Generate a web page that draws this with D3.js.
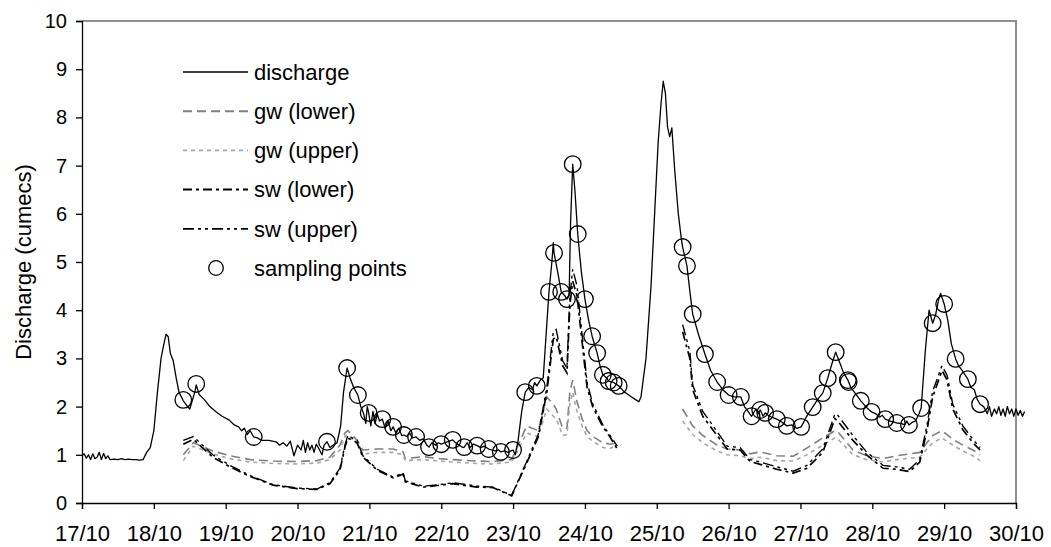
<!DOCTYPE html>
<html>
<head>
<meta charset="utf-8">
<script src="https://cdn.jsdelivr.net/npm/d3@7"></script>
<style>
  body { margin: 0; background: #fff; }
  text { font-family: "Liberation Sans", Arial, sans-serif; }
</style>
</head>
<body>
<div id="chart"></div>
<script>
// Day-of-October tick labels along the bottom
const dayTicks = [17, 18, 19, 20, 21, 22, 23, 24, 25, 26, 27, 28, 29, 30];
const dayLabels = ["17/10", "18/10", "19/10", "20/10", "21/10", "22/10", "23/10", "24/10", "25/10", "26/10", "27/10", "28/10", "29/10", "30/10"];
const yTicks = [0, 1, 2, 3, 4, 5, 6, 7, 8, 9, 10];

// Discharge hydrograph (day of October, cumecs)
const qDays = [17.0, 17.03, 17.06, 17.09, 17.12, 17.15, 17.18, 17.21, 17.24, 17.27, 17.3, 17.33, 17.36, 17.39, 17.45, 17.5, 17.55, 17.6, 17.65, 17.7, 17.75, 17.8, 17.85,
  17.9, 17.95, 18.0, 18.05, 18.1, 18.14, 18.17, 18.2, 18.23, 18.27, 18.31, 18.35, 18.41, 18.47, 18.5, 18.53, 18.57, 18.59, 18.63, 18.7, 18.78, 18.86, 18.95,
  19.05, 19.12, 19.18, 19.22, 19.26, 19.3, 19.34, 19.39, 19.44, 19.5, 19.6, 19.7, 19.75, 19.8, 19.85, 19.9, 19.95, 20.0, 20.05, 20.08, 20.11, 20.14, 20.17,
  20.2, 20.23, 20.26, 20.3, 20.34, 20.37, 20.41, 20.45, 20.5, 20.55, 20.6, 20.64, 20.69, 20.73, 20.78, 20.84, 20.88, 20.92, 20.95, 20.97, 20.99, 21.02, 21.05,
  21.08, 21.11, 21.14, 21.18, 21.22, 21.26, 21.3, 21.33, 21.37, 21.41, 21.45, 21.48, 21.52, 21.56, 21.6, 21.65, 21.7, 21.75, 21.8, 21.83, 21.87, 21.92, 21.96,
  22.0, 22.05, 22.1, 22.16, 22.2, 22.25, 22.3, 22.32, 22.36, 22.4, 22.45, 22.5, 22.55, 22.6, 22.66, 22.7, 22.75, 22.8, 22.83, 22.88, 22.93, 22.97, 23.0, 23.03,
  23.07, 23.12, 23.17, 23.22, 23.27, 23.3, 23.33, 23.38, 23.42, 23.46, 23.5, 23.54, 23.56, 23.57, 23.62, 23.67, 23.72, 23.75, 23.78, 23.8, 23.83, 23.86, 23.9,
  23.95, 24.0, 24.05, 24.1, 24.17, 24.21, 24.25, 24.3, 24.33, 24.4, 24.47, 24.55, 24.6, 24.65, 24.7, 24.75, 24.78, 24.85, 24.92, 24.98, 25.02, 25.06, 25.09,
  25.12, 25.15, 25.18, 25.21, 25.25, 25.3, 25.34, 25.36, 25.42, 25.46, 25.5, 25.58, 25.67, 25.75, 25.84, 25.92, 26.0, 26.08, 26.17, 26.22, 26.27, 26.32, 26.38,
  26.41, 26.44, 26.48, 26.51, 26.55, 26.6, 26.67, 26.74, 26.81, 26.88, 26.95, 27.01, 27.08, 27.17, 27.24, 27.31, 27.38, 27.44, 27.49, 27.55, 27.6, 27.66, 27.7,
  27.75, 27.84, 27.92, 27.99, 28.05, 28.1, 28.14, 28.18, 28.25, 28.34, 28.4, 28.45, 28.48, 28.51, 28.56, 28.6, 28.65, 28.68, 28.74, 28.79, 28.84, 28.88, 28.92,
  28.95, 29.0, 29.05, 29.1, 29.16, 29.2, 29.25, 29.33, 29.37, 29.42, 29.46, 29.5, 29.55, 29.6, 29.63, 29.66, 29.7, 29.73, 29.76, 29.79, 29.82, 29.85, 29.88,
  29.91, 29.94, 29.97, 30.0, 30.03, 30.06, 30.09, 30.12];
const discharge = [0.98, 1.02, 0.93, 1.0, 0.9, 1.02, 0.92, 0.95, 1.05, 0.9, 1.03, 0.92, 0.98, 0.9, 0.91, 0.9, 0.92, 0.9, 0.91, 0.9, 0.9, 0.89, 0.9,
  1.05, 1.15, 1.5, 2.3, 3.0, 3.3, 3.5, 3.45, 3.1, 2.95, 2.6, 2.3, 2.12, 2.0, 1.95, 2.1, 2.3, 2.45, 2.25, 2.15, 2.0, 1.9, 1.8,
  1.72, 1.62, 1.58, 1.5, 1.55, 1.42, 1.5, 1.37, 1.35, 1.3, 1.3, 1.27, 1.2, 1.25, 1.18, 1.28, 0.98, 1.2, 1.1, 1.3, 1.05, 1.25, 1.1,
  1.2, 1.05, 1.22, 1.12, 1.0, 1.2, 1.27, 1.15, 1.2, 1.25, 1.6, 2.3, 2.8, 2.6, 2.4, 2.24, 2.0, 1.85, 1.65, 2.0, 1.87, 1.6, 1.9,
  1.65, 1.85, 1.7, 1.74, 1.55, 1.7, 1.5, 1.58, 1.45, 1.55, 1.4, 1.41, 1.38, 1.45, 1.35, 1.37, 1.3, 1.33, 1.2, 1.16, 1.25, 1.2, 1.25,
  1.22, 1.25, 1.28, 1.31, 1.25, 1.2, 1.15, 1.16, 1.25, 1.15, 1.22, 1.19, 1.15, 1.18, 1.12, 1.1, 1.08, 1.1, 1.06, 1.08, 1.05, 1.08, 1.1, 1.0,
  1.3, 1.9, 2.3, 2.4, 2.35, 2.5, 2.43, 2.55, 2.6, 3.5, 4.38, 5.0, 5.4, 5.19, 4.8, 4.38, 4.3, 4.23, 4.3, 5.8, 7.03, 6.5, 5.58,
  4.8, 4.23, 3.8, 3.46, 3.11, 2.85, 2.66, 2.6, 2.53, 2.5, 2.43, 2.3, 2.25, 2.2, 2.15, 2.1, 2.2, 3.0, 4.5, 6.3, 7.5, 8.3, 8.75,
  8.5, 7.8, 7.6, 7.78, 6.9, 6.0, 5.5, 5.31, 4.92, 4.4, 3.92, 3.5, 3.09, 2.75, 2.51, 2.35, 2.24, 2.2, 2.2, 2.0, 1.9, 1.8, 1.95,
  1.85, 1.93, 1.8, 1.87, 1.82, 1.78, 1.74, 1.68, 1.6, 1.62, 1.55, 1.58, 1.78, 1.99, 2.15, 2.28, 2.59, 2.9, 3.13, 2.9, 2.7, 2.55, 2.4,
  2.3, 2.12, 1.98, 1.89, 1.85, 1.78, 1.82, 1.74, 1.7, 1.66, 1.65, 1.62, 1.7, 1.62, 1.68, 1.7, 1.85, 1.97, 3.2, 4.0, 3.73, 3.9, 4.2,
  4.35, 4.13, 3.8, 3.3, 2.99, 2.85, 2.75, 2.57, 2.4, 2.35, 2.15, 2.05, 2.0, 1.85, 2.0, 1.8, 1.95, 1.85, 2.0, 1.82, 1.95, 1.8, 2.0,
  1.85, 1.95, 1.8, 1.95, 1.82, 1.92, 1.8, 1.9];

// Sampling points
const sampleDays = [18.41, 18.59, 19.39, 20.41, 20.69, 20.84, 20.99, 21.18, 21.33, 21.48, 21.65, 21.83, 22.0, 22.16, 22.32, 22.5, 22.66, 22.83, 23.0,
  23.17, 23.33, 23.5, 23.57, 23.67, 23.75, 23.83, 23.9, 24.0, 24.1, 24.17, 24.25, 24.33, 24.4, 24.47,
  25.36, 25.42, 25.5, 25.67, 25.84, 26.0, 26.17, 26.32, 26.44, 26.51, 26.67, 26.81, 27.01, 27.17, 27.31, 27.38, 27.49, 27.66, 27.67,
  27.84, 27.99, 28.18, 28.34, 28.51, 28.68, 28.84, 29.0, 29.16, 29.33, 29.5];
const sampleValues = [2.14, 2.47, 1.37, 1.27, 2.8, 2.24, 1.87, 1.74, 1.58, 1.41, 1.37, 1.16, 1.22, 1.31, 1.16, 1.19, 1.12, 1.06, 1.1,
  2.3, 2.43, 4.38, 5.19, 4.38, 4.23, 7.03, 5.58, 4.23, 3.46, 3.11, 2.66, 2.53, 2.5, 2.43,
  5.31, 4.92, 3.92, 3.09, 2.51, 2.24, 2.2, 1.8, 1.93, 1.87, 1.74, 1.6, 1.58, 1.99, 2.28, 2.59, 3.13, 2.55, 2.51,
  2.12, 1.89, 1.74, 1.66, 1.62, 1.97, 3.73, 4.13, 2.99, 2.57, 2.05];

// Hydrograph separation, two sampled events (null = gap)
const sepDays = [18.41, 18.55, 18.82, 19.06, 19.34, 19.66, 19.99, 20.27, 20.45, 20.59, 20.66, 20.7, 20.83, 20.91, 21.11, 21.33, 21.47, 21.5, 21.75,
  21.98, 22.16, 22.5, 22.72, 22.98, 23.19, 23.35, 23.47, 23.56, 23.6, 23.69, 23.75, 23.79, 23.83, 23.89, 23.96, 24.03, 24.11, 24.25, 24.35, 24.45,
  24.9,
  25.36, 25.46, 25.5, 25.64, 25.84, 25.98, 26.16, 26.3, 26.44, 26.67, 26.9, 27.09, 27.31, 27.48, 27.52, 27.73, 27.92, 28.15, 28.34, 28.52, 28.66,
  28.76, 28.84, 28.97, 29.04, 29.12, 29.26, 29.4, 29.5];
const gwLower = [1.0, 1.25, 1.08, 0.98, 0.9, 0.87, 0.86, 0.88, 0.95, 1.2, 1.45, 1.5, 1.3, 1.1, 1.12, 1.12, 1.06, 0.92, 0.96,
  0.92, 0.9, 0.87, 0.86, 0.9, 1.6, 1.5, 2.2, 2.05, 1.95, 1.55, 1.55, 2.3, 2.55, 2.1, 1.75, 1.5, 1.38, 1.25, 1.22, 1.25,
  null,
  1.95, 1.7, 1.6, 1.4, 1.2, 1.12, 1.1, 1.02, 1.06, 0.98, 0.97, 1.14, 1.35, 1.5, 1.48, 1.1, 0.98, 0.92, 0.98, 1.02, 1.05,
  1.25, 1.4, 1.5, 1.42, 1.32, 1.2, 1.1, 1.0];
const gwUpper = [0.88, 1.18, 1.02, 0.92, 0.85, 0.82, 0.81, 0.83, 0.9, 1.1, 1.38, 1.42, 1.22, 1.02, 1.05, 1.05, 1.0, 0.88, 0.9,
  0.87, 0.85, 0.82, 0.81, 0.85, 1.45, 1.38, 1.95, 1.8, 1.75, 1.4, 1.42, 2.05, 2.3, 1.9, 1.6, 1.38, 1.28, 1.15, 1.13, 1.2,
  null,
  1.7, 1.5, 1.42, 1.25, 1.08, 1.0, 0.98, 0.92, 0.95, 0.88, 0.87, 1.0, 1.2, 1.35, 1.33, 1.0, 0.9, 0.85, 0.9, 0.93, 0.95,
  1.12, 1.25, 1.35, 1.28, 1.2, 1.08, 0.98, 0.88];
const swLower = [1.22, 1.32, 0.95, 0.75, 0.55, 0.37, 0.3, 0.28, 0.4, 0.68, 1.16, 1.35, 1.25, 0.95, 0.68, 0.52, 0.6, 0.44, 0.33,
  0.37, 0.4, 0.33, 0.32, 0.15, 0.83, 1.37, 2.3, 3.4, 3.45, 2.85, 2.7, 4.1, 4.6, 4.3, 3.35, 2.4, 1.99, 1.58, 1.37, 1.12,
  null,
  3.55, 3.0, 2.35, 1.8, 1.4, 1.12, 1.1, 0.86, 0.8, 0.7, 0.62, 0.72, 1.05, 1.75, 1.7, 1.3, 1.0, 0.72, 0.7, 0.65, 0.85,
  1.5, 2.2, 2.75, 2.55, 1.95, 1.52, 1.25, 1.1];
const swUpper = [1.3, 1.38, 1.0, 0.78, 0.57, 0.38, 0.31, 0.29, 0.42, 0.72, 1.2, 1.4, 1.3, 0.98, 0.7, 0.54, 0.62, 0.46, 0.35,
  0.38, 0.42, 0.35, 0.33, 0.16, 0.86, 1.42, 2.4, 3.55, 3.6, 2.95, 2.8, 4.3, 4.85, 4.5, 3.5, 2.5, 2.05, 1.62, 1.4, 1.18,
  null,
  3.7, 3.15, 2.45, 1.9, 1.48, 1.18, 1.15, 0.9, 0.85, 0.75, 0.66, 0.78, 1.12, 1.85, 1.82, 1.4, 1.06, 0.78, 0.75, 0.7, 0.9,
  1.6, 2.32, 2.85, 2.65, 2.05, 1.6, 1.32, 1.15];

const legendNames = ["discharge", "gw (lower)", "gw (upper)", "sw (lower)", "sw (upper)", "sampling points"];

const width = 1051, height = 547;
const svg = d3.select("#chart").append("svg")
  .attr("width", width)
  .attr("height", height);

const x = d3.scaleLinear().domain([17, 30]).range([82, 1016]);
const y = d3.scaleLinear().domain([0, 10]).range([503, 21]);

// grey frame on top and right
svg.append("path")
  .attr("d", `M${x(17)},${y(10)}H${x(30)}V${y(0)}`)
  .attr("fill", "none")
  .attr("stroke", "#909090")
  .attr("stroke-width", 2);

// axes
const yAxis = svg.append("g")
  .attr("transform", `translate(${x(17)},0)`)
  .call(d3.axisLeft(y).tickValues(yTicks).tickSize(6).tickPadding(9).tickFormat(d3.format("d")));
const xAxis = svg.append("g")
  .attr("transform", `translate(0,${y(0)})`)
  .call(d3.axisBottom(x).tickValues(dayTicks).tickSize(6).tickPadding(16).tickFormat((d, i) => dayLabels[i]));
[xAxis, yAxis].forEach(a => {
  a.select(".domain").attr("stroke", "#000").attr("stroke-width", 1.3);
  a.selectAll(".tick line").attr("stroke", "#000").attr("stroke-width", 1.3);
  a.selectAll("text").attr("fill", "#000")
    .style("font-family", '"Liberation Sans", Arial, sans-serif');
});
yAxis.selectAll("text").style("font-size", "20px");
xAxis.selectAll("text").style("font-size", "22px");

svg.append("text")
  .attr("transform", `translate(31,${(y(0) + y(10)) / 2}) rotate(-90)`)
  .attr("text-anchor", "middle")
  .style("font-size", "22px")
  .text("Discharge (cumecs)");

// line styles
const styles = [
  { stroke: "#000", width: 1.3, dash: null },
  { stroke: "#808080", width: 1.6, dash: "9,5" },
  { stroke: "#a6a6a6", width: 1.6, dash: "4,4" },
  { stroke: "#000", width: 1.7, dash: "9,4,3,4" },
  { stroke: "#000", width: 1.4, dash: "11,4,3,4,3,4" }
];

const line = d3.line()
  .defined(d => d[1] != null)
  .x(d => x(d[0]))
  .y(d => y(d[1]));

const sepSeries = [gwLower, gwUpper, swLower, swUpper];
sepSeries.forEach((vals, k) => {
  const st = styles[k + 1];
  svg.append("path")
    .datum(sepDays.map((d, i) => [d, vals[i]]))
    .attr("d", line)
    .attr("fill", "none")
    .attr("stroke", st.stroke)
    .attr("stroke-width", st.width)
    .attr("stroke-dasharray", st.dash);
});

svg.append("path")
  .datum(qDays.map((d, i) => [d, discharge[i]]))
  .attr("d", line)
  .attr("fill", "none")
  .attr("stroke", "#000")
  .attr("stroke-width", 1.3)
  .attr("stroke-linejoin", "round");

svg.append("g")
  .selectAll("circle")
  .data(sampleDays.map((d, i) => [d, sampleValues[i]]))
  .enter()
  .append("circle")
  .attr("cx", d => x(d[0]))
  .attr("cy", d => y(d[1]))
  .attr("r", 8.3)
  .attr("fill", "none")
  .attr("stroke", "#000")
  .attr("stroke-width", 1.3);

// legend
const legend = svg.append("g").attr("transform", "translate(183,72)");
legendNames.forEach((name, i) => {
  const g = legend.append("g").attr("transform", `translate(0,${i * 39.2})`);
  if (i < 5) {
    const st = styles[i];
    g.append("line")
      .attr("x1", 0).attr("x2", 65)
      .attr("stroke", st.stroke)
      .attr("stroke-width", st.width + 0.3)
      .attr("stroke-dasharray", st.dash);
  } else {
    g.append("circle")
      .attr("cx", 33).attr("r", 7.3)
      .attr("fill", "none")
      .attr("stroke", "#000")
      .attr("stroke-width", 1.3);
  }
  g.append("text")
    .attr("x", 71)
    .attr("dy", "0.35em")
    .style("font-size", "22px")
    .text(name);
});
</script>
</body>
</html>
